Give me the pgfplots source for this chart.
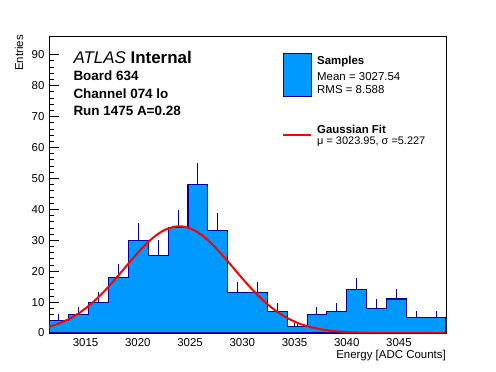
\documentclass[border=0pt]{standalone}
\usepackage{pgfplots}
\pgfplotsset{compat=1.18}
\usepackage{fontspec}
\setmainfont{Liberation Sans}
\definecolor{histfill}{RGB}{0,153,255}
\definecolor{histline}{RGB}{0,0,153}
\definecolor{fitred}{RGB}{255,0,0}
\begin{document}
\begin{tikzpicture}
\useasboundingbox (-49bp,-39bp) rectangle (447bp,333bp);
\begin{axis}[
  at={(0,0)}, anchor=south west,
  scale only axis, width=397bp, height=297bp,
  xmin=3011.5, xmax=3049.5, ymin=0, ymax=96,
  xtick={3015,3020,3025,3030,3035,3040,3045},
  ytick={0,10,20,30,40,50,60,70,80,90},
  minor x tick num=4, minor y tick num=4,
  tick align=inside, tick pos=left,
  major tick length=10bp, minor tick length=5bp,
  every tick/.style={black, line width=0.6bp},
  axis line style={line width=0.8bp},
  /pgf/number format/assume math mode=true,
  /pgf/number format/1000 sep={},
  tick label style={font=\fontsize{11.5}{13}\selectfont},
  xticklabel style={yshift=-2bp},
  yticklabel style={xshift=-1bp},
  clip=true,
]
% histogram (20 bins of width 1.9)
\addplot[const plot, fill=histfill, draw=histline, line width=1.1bp] coordinates {
(3011.5,4) (3013.4,6) (3015.3,10) (3017.2,18) (3019.1,30) (3021.0,25)
(3022.9,34) (3024.8,48) (3026.7,33) (3028.6,13) (3030.5,13) (3032.4,7)
(3034.3,2) (3036.2,6) (3038.1,7) (3040.0,14) (3041.9,8) (3043.8,11)
(3045.7,5) (3047.6,5) (3049.5,5)
} \closedcycle;
% error bars (upper half visible)
\addplot[draw=none, mark=none, forget plot,
  error bars/.cd, y dir=plus, y explicit, error mark=none,
  error bar style={draw=histline, line width=1bp}]
  table[x=x, y=y, y error=e] {
x y e
3012.45 4 2.00
3014.35 6 2.45
3016.25 10 3.16
3018.15 18 4.24
3020.05 30 5.48
3021.95 25 5.00
3023.85 34 5.83
3025.75 48 6.93
3027.65 33 5.74
3029.55 13 3.61
3031.45 13 3.61
3033.35 7 2.65
3035.25 2 1.41
3037.15 6 2.45
3039.05 7 2.65
3040.95 14 3.74
3042.85 8 2.83
3044.75 11 3.32
3046.65 5 2.24
3048.55 5 2.24
};
% Gaussian fit curve (mu=3023.95, sigma=5.227)
\addplot[smooth, draw=fitred, line width=2bp] coordinates {
(3011.5,2.02) (3012.5,3.13) (3013.5,4.67) (3014.5,6.73) (3015.5,9.34)
(3016.5,12.49) (3017.5,16.11) (3018.5,20.03) (3019.5,24.01) (3020.5,27.75)
(3021.5,30.91) (3022.5,33.20) (3023.5,34.37) (3023.95,34.5) (3024.5,34.31)
(3025.5,33.02) (3026.5,30.63) (3027.5,27.40) (3028.5,23.62) (3029.5,19.63)
(3030.5,15.73) (3031.5,12.15) (3032.5,9.05) (3033.5,6.50) (3034.5,4.50)
(3035.5,3.00) (3036.5,1.93) (3037.5,1.20) (3038.5,0.72) (3039.5,0.41)
(3040.5,0.23) (3041.5,0.12) (3042.5,0.06) (3043.5,0.03) (3045.5,0.01)
(3047.5,0.0) (3049.5,0.0)
};
\end{axis}
% axis titles
\node[rotate=90, anchor=base east, inner sep=0pt, font=\fontsize{11.5}{13}\selectfont] at (-26bp,298bp) {Entries};
\node[anchor=base east, inner sep=0pt, font=\fontsize{11.5}{13}\selectfont] at (397bp,-25.3bp) {Energy [ADC Counts]};
% labels
\node[anchor=base west, inner sep=0pt, font=\fontsize{17}{20}\selectfont] at (24.3bp,269.7bp) {\textit{ATLAS} \textbf{Internal}};
\node[anchor=base west, inner sep=0pt, font=\fontsize{13.5}{16}\selectfont\bfseries] at (24.3bp,252bp) {Board 634};
\node[anchor=base west, inner sep=0pt, font=\fontsize{13.5}{16}\selectfont\bfseries] at (24.3bp,234.7bp) {Channel 074 lo};
\node[anchor=base west, inner sep=0pt, font=\fontsize{13.5}{16}\selectfont\bfseries] at (24.3bp,217bp) {Run 1475 A=0.28};
% legend
\filldraw[fill=histfill, draw=histline, line width=1bp] (234.3bp,236.3bp) rectangle (262bp,279.7bp);
\node[anchor=base west, inner sep=0pt, font=\fontsize{11.5}{13}\selectfont\bfseries] at (268bp,268bp) {Samples};
\node[anchor=base west, inner sep=0pt, font=\fontsize{11.5}{13}\selectfont] at (268bp,252.5bp) {Mean = 3027.54};
\node[anchor=base west, inner sep=0pt, font=\fontsize{11.5}{13}\selectfont] at (268bp,239.7bp) {RMS = 8.588};
\draw[fitred, line width=2bp] (234.3bp,197.5bp) -- (262bp,197.5bp);
\node[anchor=base west, inner sep=0pt, font=\fontsize{11.5}{13}\selectfont\bfseries] at (268bp,199bp) {Gaussian Fit};
\node[anchor=base west, inner sep=0pt, font=\fontsize{11}{13}\selectfont] at (268bp,188bp) {μ = 3023.95, σ =5.227};
\end{tikzpicture}
\end{document}
